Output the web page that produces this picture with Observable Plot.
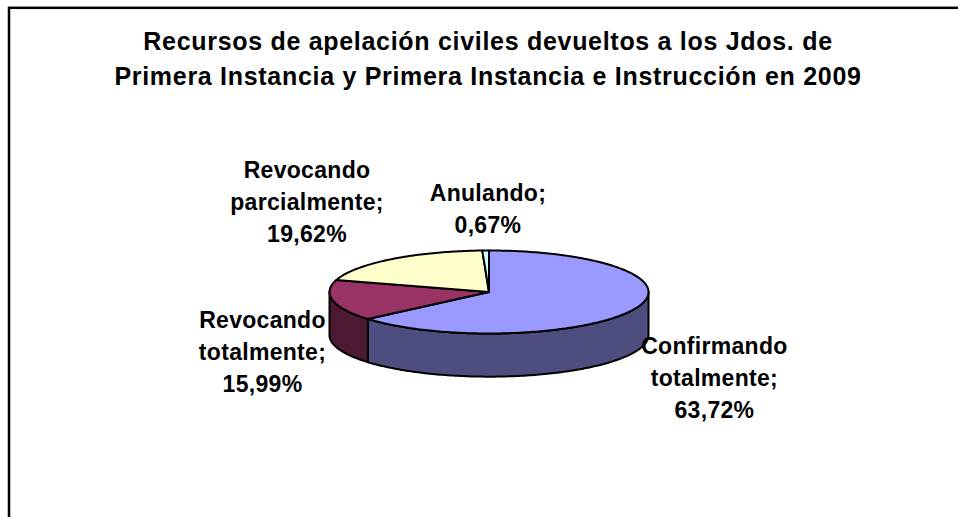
<!DOCTYPE html>
<html>
<head>
<meta charset="utf-8">
<script src="https://cdn.jsdelivr.net/npm/d3@7"></script>
<script src="https://cdn.jsdelivr.net/npm/@observablehq/plot@0.6"></script>
<style>html,body{margin:0;padding:0;background:#fff}svg{display:block}
.pie-title text{letter-spacing:.7px}
.pie-label text{letter-spacing:.3px}</style>
</head>
<body>
<div id="chart"></div>
<script>
const categories = ["Confirmando totalmente", "Revocando totalmente", "Revocando parcialmente", "Anulando"];
const values = [63.72, 15.99, 19.62, 0.67];
const topColors = ["#9999FF", "#993366", "#FFFFCC", "#CCFFFF"];
const sideColors = ["#4D4D80", "#4D1A33", "#80806A", "#668080"];
const labelLines = [
  ["Confirmando", "totalmente;", "63,72%"],
  ["Revocando", "totalmente;", "15,99%"],
  ["Revocando", "parcialmente;", "19,62%"],
  ["Anulando;", "0,67%"]
];
const titleLines = [
  "Recursos de apelación civiles devueltos a los Jdos. de",
  "Primera Instancia y Primera Instancia e Instrucción en 2009"
];
const labelOffsets = [[80.5, 69], [-70.4, 52.5], [-84.4, -56.7], [2.3, -40.5]];
const depth = 1.04;

const total = d3.sum(values);
const rad = (p) => (p / total) * 2 * Math.PI;
let acc = 0;
const slices = values.map((v, i) => {
  const a0 = rad(acc); acc += v; const a1 = rad(acc);
  return {i, a0, a1, mid: (a0 + a1) / 2};
});
const arc = (a0, a1, dz = 0) => {
  const n = Math.max(2, Math.ceil((a1 - a0) * 60));
  return d3.range(n + 1).map((k) => {
    const a = a0 + (a1 - a0) * k / n;
    return {x: Math.sin(a), y: Math.cos(a) - dz};
  });
};
const poly = (pts, fill) => Plot.line([...pts, pts[0]], {x: "x", y: "y", fill, stroke: "#000", strokeWidth: 2, strokeLinejoin: "round", curve: "linear"});

const walls = [];
slices.forEach((s) => {
  const from = Math.max(s.a0, Math.PI / 2), to = Math.min(s.a1, 3 * Math.PI / 2);
  if (to > from) walls.push(poly([...arc(from, to), ...arc(from, to, depth).reverse()], sideColors[s.i]));
});
const tops = slices.map((s) => poly([{x: 0, y: 0}, ...arc(s.a0, s.a1)], topColors[s.i]));
const labels = slices.flatMap((s) => {
  const n = labelLines[s.i].length;
  return labelLines[s.i].map((t, k) => Plot.text([t], {
    x: () => Math.sin(s.mid), y: () => Math.cos(s.mid),
    text: (d) => d, fontSize: 23, className: "pie-label",
    dx: labelOffsets[s.i][0],
    dy: labelOffsets[s.i][1] + (k - (n - 1) / 2) * 32
  }));
});
const titleMarks = titleLines.map((t, k) => Plot.text([t], {
  x: () => 0, frameAnchor: "top", text: (d) => d, fontSize: 25, className: "pie-title", dy: 32 + k * 34.5, dx: -1
}));

const plot = Plot.plot({
  width: 958, height: 517, margin: 0,
  style: {background: "#fff", fontFamily: "'Liberation Sans', Arial, sans-serif", fontSize: "20px", fontWeight: 700, color: "#000"},
  x: {domain: [-1, 1], range: [329, 648], axis: null},
  y: {domain: [1, -1], range: [250, 333], axis: null},
  marks: [
    Plot.frame({insetLeft: 8.5, insetTop: 7.3, insetRight: -10, insetBottom: -10, stroke: "#000", strokeWidth: 2.5}),
    ...walls, ...tops, ...labels, ...titleMarks
  ]
});
document.getElementById("chart").append(plot);
</script>
</body>
</html>
